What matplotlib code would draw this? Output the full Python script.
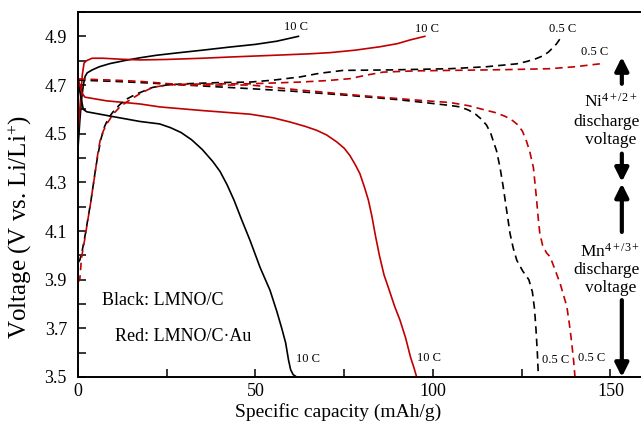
import matplotlib
matplotlib.use('Agg')
import matplotlib.pyplot as plt
from matplotlib.ticker import MultipleLocator

plt.rcParams['font.family'] = ['Liberation Serif', 'DejaVu Serif']
plt.rcParams['mathtext.fontset'] = 'custom'
plt.rcParams['mathtext.rm'] = 'Liberation Serif'
plt.rcParams['mathtext.it'] = 'Liberation Serif:italic'

# ---- data (capacity mAh/g, voltage V) ----
blk10_chg_x = [0, 0.5, 1.0, 1.5, 2.0, 2.6, 4, 6, 9, 13, 17.5, 22, 28, 35, 42.8, 50, 56, 62.1]
blk10_chg_y = [4.44, 4.55, 4.64, 4.70, 4.735, 4.75, 4.762, 4.775, 4.788, 4.80, 4.812, 4.822, 4.832, 4.843, 4.856, 4.867, 4.88, 4.90]

red10_chg_x = [0, 0.4, 0.8, 1.2, 1.7, 2.4, 4, 7, 12, 17.5, 25, 35, 42.8, 55, 65, 71, 78, 85, 90, 93.5, 97.7]
red10_chg_y = [4.50, 4.58, 4.66, 4.74, 4.79, 4.80, 4.81, 4.81, 4.806, 4.803, 4.805, 4.81, 4.815, 4.822, 4.828, 4.833, 4.843, 4.857, 4.87, 4.885, 4.90]

blk10_dis_x = [0, 0.8, 1.5, 2.45, 9.9, 17.5, 23, 26, 29, 32, 35, 38, 40, 42, 44, 46, 48.5, 51.3, 54.1, 56, 57.4, 58.5, 59.3, 59.9, 60.6, 61.6]
blk10_dis_y = [4.72, 4.65, 4.60, 4.59, 4.57, 4.55, 4.54, 4.525, 4.505, 4.475, 4.435, 4.385, 4.345, 4.29, 4.225, 4.15, 4.06, 3.95, 3.856, 3.77, 3.70, 3.64, 3.57, 3.53, 3.51, 3.50]

red10_dis_x = [0, 0.5, 1.2, 1.95, 8, 17.5, 23, 35, 48.5, 55, 59.7, 64, 67.2, 70, 72.9, 75, 76.6, 78.2, 79.4, 80.7, 81.8, 82.8, 83.8, 84.9, 86.2, 87.6, 89.2, 90.7, 92.3, 93.7, 94.6, 95.4]
red10_dis_y = [4.73, 4.70, 4.665, 4.65, 4.635, 4.622, 4.61, 4.595, 4.58, 4.565, 4.548, 4.53, 4.514, 4.495, 4.466, 4.44, 4.41, 4.37, 4.336, 4.28, 4.227, 4.16, 4.08, 4.0, 3.92, 3.86, 3.79, 3.734, 3.66, 3.58, 3.54, 3.50]

blk05_chg_x = [0, 0.5, 1.2, 2.1, 2.9, 3.6, 4.3, 5, 5.7, 6.5, 7.5, 8.6, 9.9, 11.8, 13.7, 16, 18, 21, 25, 30, 40, 48.5, 55, 62.5, 68, 74.7, 87.9, 104.8, 115, 123.6, 126.5, 129, 131, 132.5, 133.7, 134.8, 135.7, 136.5]
blk05_chg_y = [3.97, 3.98, 4.02, 4.09, 4.16, 4.22, 4.29, 4.36, 4.42, 4.48, 4.53, 4.565, 4.59, 4.62, 4.642, 4.66, 4.672, 4.69, 4.70, 4.705, 4.71, 4.712, 4.72, 4.733, 4.748, 4.76, 4.762, 4.767, 4.775, 4.787, 4.797, 4.808, 4.82, 4.835, 4.852, 4.869, 4.888, 4.905]

red05_chg_x = [0, 0.5, 1, 2, 2.7, 3.4, 4.1, 4.8, 5.5, 6.2, 7.1, 8.1, 9.9, 11.8, 13.7, 17.5, 21, 25, 30, 40, 48.5, 62.5, 70, 76.6, 81, 86, 95, 104.8, 120, 133, 140, 147]
red05_chg_y = [3.89, 3.90, 3.99, 4.075, 4.14, 4.20, 4.27, 4.336, 4.41, 4.47, 4.51, 4.54, 4.58, 4.61, 4.63, 4.665, 4.69, 4.70, 4.703, 4.705, 4.705, 4.712, 4.718, 4.726, 4.74, 4.753, 4.758, 4.76, 4.763, 4.767, 4.775, 4.787]

blk05_dis_x = [0, 10, 17.5, 30, 48.5, 60, 76.6, 90, 96.3, 104.8, 107.6, 110, 112, 113.6, 115.1, 116.3, 117.2, 117.9, 118.9, 119.8, 120.8, 121.7, 122.6, 123.6, 125.3, 127, 128, 128.6, 129, 129.4, 129.7]
blk05_dis_y = [4.72, 4.715, 4.71, 4.70, 4.685, 4.675, 4.657, 4.64, 4.63, 4.616, 4.61, 4.597, 4.58, 4.56, 4.535, 4.50, 4.46, 4.43, 4.36, 4.28, 4.18, 4.09, 4.03, 3.98, 3.935, 3.90, 3.85, 3.78, 3.70, 3.60, 3.50]

red05_dis_x = [0, 10, 17.5, 30, 48.5, 62, 79.4, 96.3, 104.8, 110, 115, 118, 120.5, 122.5, 124, 125.2, 126.2, 127.2, 128.3, 129.2, 129.6, 130.1, 130.9, 132, 133, 134.4, 135.8, 136.9, 137.7, 138.4, 139, 139.6, 140]
red05_dis_y = [4.725, 4.72, 4.715, 4.70, 4.70, 4.68, 4.657, 4.637, 4.628, 4.615, 4.596, 4.585, 4.57, 4.553, 4.535, 4.51, 4.475, 4.43, 4.36, 4.227, 4.16, 4.09, 4.04, 4.01, 3.994, 3.94, 3.885, 3.83, 3.79, 3.72, 3.65, 3.57, 3.50]

rate_labels = ['10 C', '10 C', '0.5 C', '0.5 C', '10 C', '10 C', '0.5 C', '0.5 C']
rate_label_x = [61.4, 98.2, 136.6, 145.6, 64.7, 99.0, 134.6, 144.8]
rate_label_y = [4.94, 4.93, 4.93, 4.835, 3.574, 3.578, 3.57, 3.58]

RED = '#C00000'
BLK = '#000000'

fig = plt.figure(figsize=(6.41, 4.26), dpi=100)
ax = fig.add_axes([78 / 641, 49 / 426, 1 - 78 / 641, 365 / 426])

lw = 1.2
dash = (0, (4.5, 3))
ax.plot(blk10_chg_x, blk10_chg_y, color=BLK, lw=lw)
ax.plot(red10_chg_x, red10_chg_y, color=RED, lw=lw)
ax.plot(blk10_dis_x, blk10_dis_y, color=BLK, lw=lw)
ax.plot(red10_dis_x, red10_dis_y, color=RED, lw=lw)
ax.plot(blk05_chg_x, blk05_chg_y, color=BLK, lw=lw, linestyle=dash)
ax.plot(red05_chg_x, red05_chg_y, color=RED, lw=lw, linestyle=dash)
ax.plot(blk05_dis_x, blk05_dis_y, color=BLK, lw=lw, linestyle=dash)
ax.plot(red05_dis_x, red05_dis_y, color=RED, lw=lw, linestyle=dash)

for t, x, y in zip(rate_labels, rate_label_x, rate_label_y):
    ax.text(x, y, t, fontsize=9, ha='center', va='center')

ax.text(6.7, 3.816, 'Black: LMNO/C', fontsize=13, ha='left', va='center')
ax.text(10.4, 3.665, 'Red: LMNO/C\u00b7Au', fontsize=13, ha='left', va='center')

# right-hand arrows and annotations
arr_x = 153.2
arrows = [((arr_x, 4.705), (arr_x, 4.815)),
          ((arr_x, 4.418), (arr_x, 4.302)),
          ((arr_x, 4.096), (arr_x, 4.295)),
          ((arr_x, 3.816), (arr_x, 3.50))]
for tail, tip in arrows:
    ax.annotate('', xy=tip, xytext=tail,
                arrowprops=dict(arrowstyle='-|>,head_width=0.4,head_length=0.8',
                                lw=3, color='k', shrinkA=0, shrinkB=0),
                annotation_clip=False)

tx = 150.0
tx_d = 149.0
fs_r = 12.5
ax.text(tx, 4.63, r'Ni$^{4+/2+}$', fontsize=fs_r, ha='center', va='center')
ax.text(tx_d, 4.548, 'discharge', fontsize=fs_r, ha='center', va='center')
ax.text(tx, 4.473, 'voltage', fontsize=fs_r, ha='center', va='center')
ax.text(tx, 4.014, r'Mn$^{4+/3+}$', fontsize=fs_r, ha='center', va='center')
ax.text(tx_d, 3.939, 'discharge', fontsize=fs_r, ha='center', va='center')
ax.text(tx, 3.864, 'voltage', fontsize=fs_r, ha='center', va='center')

ax.set_xlim(0, 158.6)
ax.set_ylim(3.5, 5.0)
ax.xaxis.set_major_locator(MultipleLocator(50))
ax.xaxis.set_minor_locator(MultipleLocator(25))
ax.yaxis.set_minor_locator(MultipleLocator(0.1))
ax.set_yticks([3.5, 3.7, 3.9, 4.1, 4.3, 4.5, 4.7, 4.9])
ax.set_yticklabels(['3.5', '3.7', '3.9', '4.1', '4.3', '4.5', '4.7', '4.9'])

ax.tick_params(which='both', direction='in', length=6, width=1.1, top=False, right=False)
ax.tick_params(axis='y', which='both', labelsize=13, pad=8)
ax.tick_params(axis='x', which='both', labelsize=13, pad=4)

for s in ['left', 'bottom', 'top']:
    ax.spines[s].set_linewidth(1.4)
ax.spines['right'].set_visible(False)

ax.set_xlabel('Specific capacity (mAh/g)', fontsize=14)
ax.xaxis.set_label_coords(0.462, -0.071)
ax.set_ylabel(r'Voltage (V vs. Li/Li$^{+}$)', fontsize=18)
ax.yaxis.set_label_coords(-0.078, 0.411)

fig.savefig('out.png', dpi=100)
